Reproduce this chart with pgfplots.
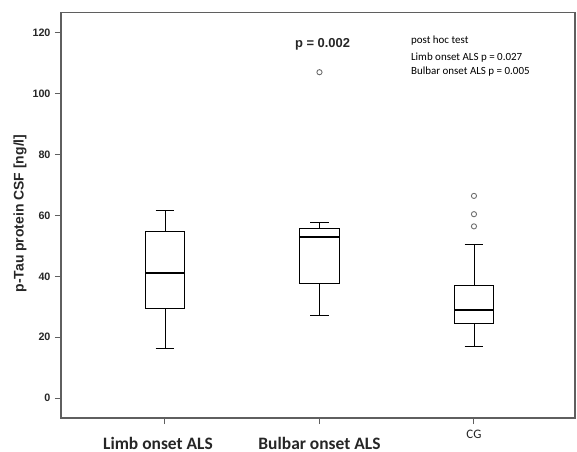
\documentclass[border=0pt]{standalone}
\usepackage{fontspec}
\setmainfont{Liberation Sans}
\newfontfamily\calfont{Carlito}
\usepackage{pgfplots}
\pgfplotsset{compat=1.18}
\usepgfplotslibrary{statistics}
\definecolor{axgray}{RGB}{95,95,95}
\definecolor{outgray}{RGB}{110,110,110}
\begin{document}
\begin{tikzpicture}
\useasboundingbox (0bp,0bp) rectangle (577bp,452bp);
\begin{axis}[
  at={(61bp,34bp)}, anchor=south west, scale only axis,
  width=514bp, height=405.5bp,
  xmin=0.327, xmax=3.654, ymin=-6.5, ymax=126.6,
  clip=false,
  axis line style={draw=axgray, line width=1.2pt},
  ytick={0,20,...,120}, xtick={1,2,3},
  xticklabels={{\hspace*{-14bp}Limb onset ALS}, Bulbar onset ALS, {\raisebox{11bp}{\fontsize{13}{15}\selectfont\mdseries CG}}},
  tick align=outside, tick pos=left, major tick length=6bp,
  tick style={draw=axgray, line width=1pt},
  yticklabel style={font=\bfseries\fontsize{10.8}{12}\selectfont, text=black!85, xshift=-1bp},
  xticklabel style={font=\calfont\bfseries\fontsize{17.5}{20}\selectfont, anchor=base, yshift=-25bp, text=black!85},
  /pgf/number format/assume math mode=true,
  boxplot/draw direction=y,
  boxplot/box extend=0.255, boxplot/whisker extend=0.12,
  boxplot/every median/.style={line width=2pt},
]
\addplot[black, line width=0.9pt, boxplot prepared={draw position=1,
  lower whisker=16.4, lower quartile=29.3, median=41.2,
  upper quartile=54.7, upper whisker=61.7}] coordinates {};
\addplot[black, line width=0.9pt, boxplot prepared={draw position=2,
  lower whisker=27.3, lower quartile=37.8, median=52.8,
  upper quartile=55.6, upper whisker=57.8}] coordinates {};
\addplot[black, line width=0.9pt, boxplot prepared={draw position=3,
  lower whisker=17.1, lower quartile=24.6, median=29.0,
  upper quartile=36.9, upper whisker=50.6}] coordinates {};
\addplot[only marks, mark=o, mark size=2.6bp, draw=outgray, line width=0.9pt]
  coordinates {(2,107.0) (3,56.4) (3,60.4) (3,66.4)};
\node[font=\bfseries\fontsize{13}{15}\selectfont, text=black!85] at (axis cs:2.02,116.3) {p = 0.002};
\node[font=\calfont\fontsize{11}{13}\selectfont, anchor=base west, inner sep=0pt] at (axis cs:2.592,116.3) {post hoc test};
\node[font=\calfont\fontsize{11}{13}\selectfont, anchor=base west, inner sep=0pt] at (axis cs:2.592,110.9) {Limb onset ALS p = 0.027};
\node[font=\calfont\fontsize{11}{13}\selectfont, anchor=base west, inner sep=0pt] at (axis cs:2.592,106.2) {Bulbar onset ALS p = 0.005};
\end{axis}
\node[rotate=90, font=\bfseries\fontsize{14}{16}\selectfont, text=black!85] at (20bp,238.5bp) {p-Tau protein CSF [ng/l]};
\end{tikzpicture}
\end{document}
